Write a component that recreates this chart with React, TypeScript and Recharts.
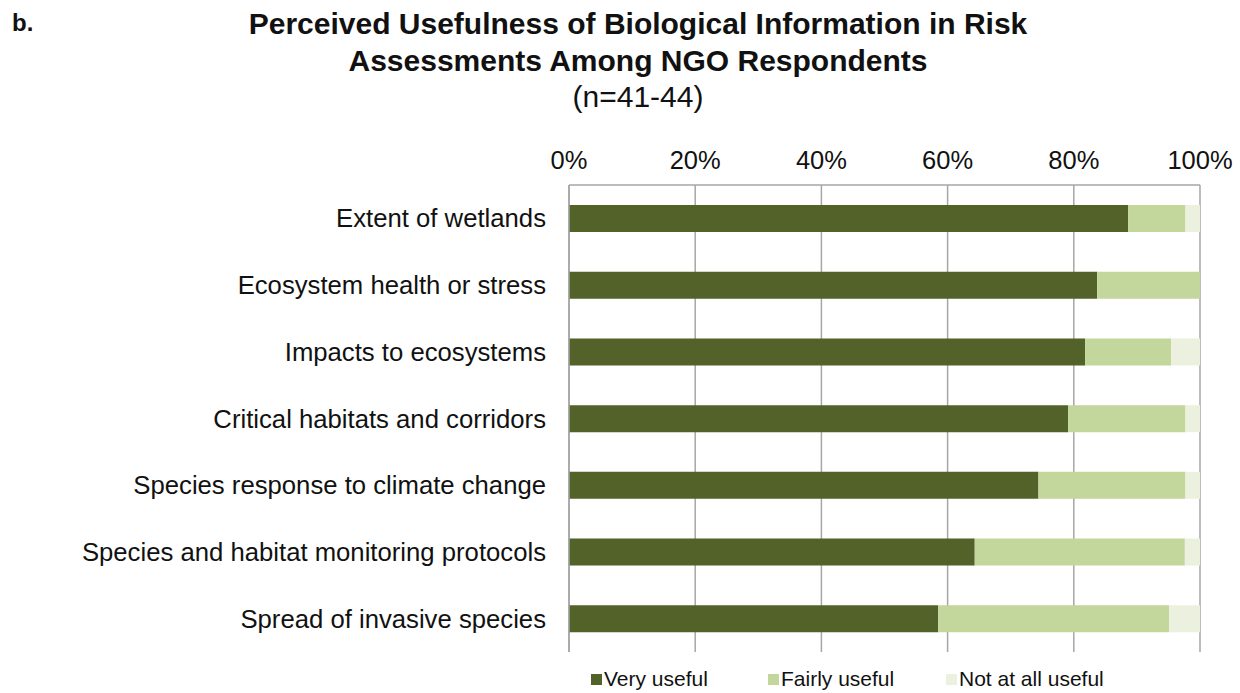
import { BarChart, Bar, XAxis, YAxis, CartesianGrid } from "recharts";

document.body.style.margin = "0";

const items = [
  "Extent of wetlands",
  "Ecosystem health or stress",
  "Impacts to ecosystems",
  "Critical habitats and corridors",
  "Species response to climate change",
  "Species and habitat monitoring protocols",
  "Spread of invasive species",
];
const veryUseful = [88.6, 83.7, 81.8, 79.1, 74.4, 64.3, 58.5];
const fairlyUseful = [9.1, 16.3, 13.6, 18.6, 23.3, 33.3, 36.6];
const notUseful = [2.3, 0, 4.6, 2.3, 2.3, 2.4, 4.9];
const pctTicks = [0, 20, 40, 60, 80, 100];

const series = [
  { key: "very", name: "Very useful", color: "#526229" },
  { key: "fairly", name: "Fairly useful", color: "#c3d69b" },
  { key: "not", name: "Not at all useful", color: "#ebf1de" },
];

const data = items.map((item, i) => ({
  item,
  very: veryUseful[i],
  fairly: fairlyUseful[i],
  not: notUseful[i],
}));

const font = '"Liberation Sans", Arial, sans-serif';
const gridColor = "#a6a6a6";
// legend swatch x positions
const legendX = [591, 768, 946];

export default function App() {
  return (
    <div style={{ position: "relative", width: 1240, height: 693, background: "#fff", fontFamily: font }}>
      <BarChart
        width={1240}
        height={693}
        data={data}
        layout="vertical"
        margin={{ top: 0, right: 40, bottom: 41, left: 0 }}
        style={{ position: "absolute", left: 0, top: 0 }}
      >
        <CartesianGrid horizontal={false} stroke={gridColor} strokeWidth={1.5} />
        <XAxis
          type="number"
          orientation="top"
          domain={[0, 100]}
          ticks={pctTicks}
          tickFormatter={(v) => `${v}%`}
          height={185}
          tickLine={false}
          tickSize={0}
          tickMargin={16}
          axisLine={{ stroke: gridColor, strokeWidth: 1.5 }}
          tick={{ fill: "#111", fontSize: 25.5, fontFamily: font }}
        />
        <YAxis
          type="category"
          dataKey="item"
          width={569}
          tickLine={false}
          tickSize={0}
          tickMargin={23}
          axisLine={{ stroke: gridColor, strokeWidth: 1.5 }}
          tick={{ fill: "#111", fontSize: 25.7, fontFamily: font }}
          interval={0}
        />
        {series.map((s) => (
          <Bar key={s.key} dataKey={s.key} name={s.name} stackId="a" fill={s.color} barSize={27} isAnimationActive={false} />
        ))}
      </BarChart>

      <div style={{ position: "absolute", left: 12, top: 9, fontSize: 24, fontWeight: "bold", color: "#111" }}>b.</div>
      <div
        style={{
          position: "absolute",
          left: 238,
          width: 800,
          top: 6,
          textAlign: "center",
          fontSize: 30,
          lineHeight: "36.5px",
          color: "#111",
        }}
      >
        <div style={{ fontWeight: "bold" }}>Perceived Usefulness of Biological Information in Risk</div>
        <div style={{ fontWeight: "bold" }}>Assessments Among NGO Respondents</div>
        <div>(n=41-44)</div>
      </div>

      {series.map((s, i) => (
        <div
          key={s.key}
          style={{
            position: "absolute",
            left: legendX[i],
            top: 667,
            display: "flex",
            alignItems: "center",
            fontSize: 21,
            color: "#111",
            whiteSpace: "nowrap",
          }}
        >
          <span style={{ width: 11, height: 11, background: s.color, display: "inline-block", marginRight: 2 }} />
          <span>{s.name}</span>
        </div>
      ))}
    </div>
  );
}
